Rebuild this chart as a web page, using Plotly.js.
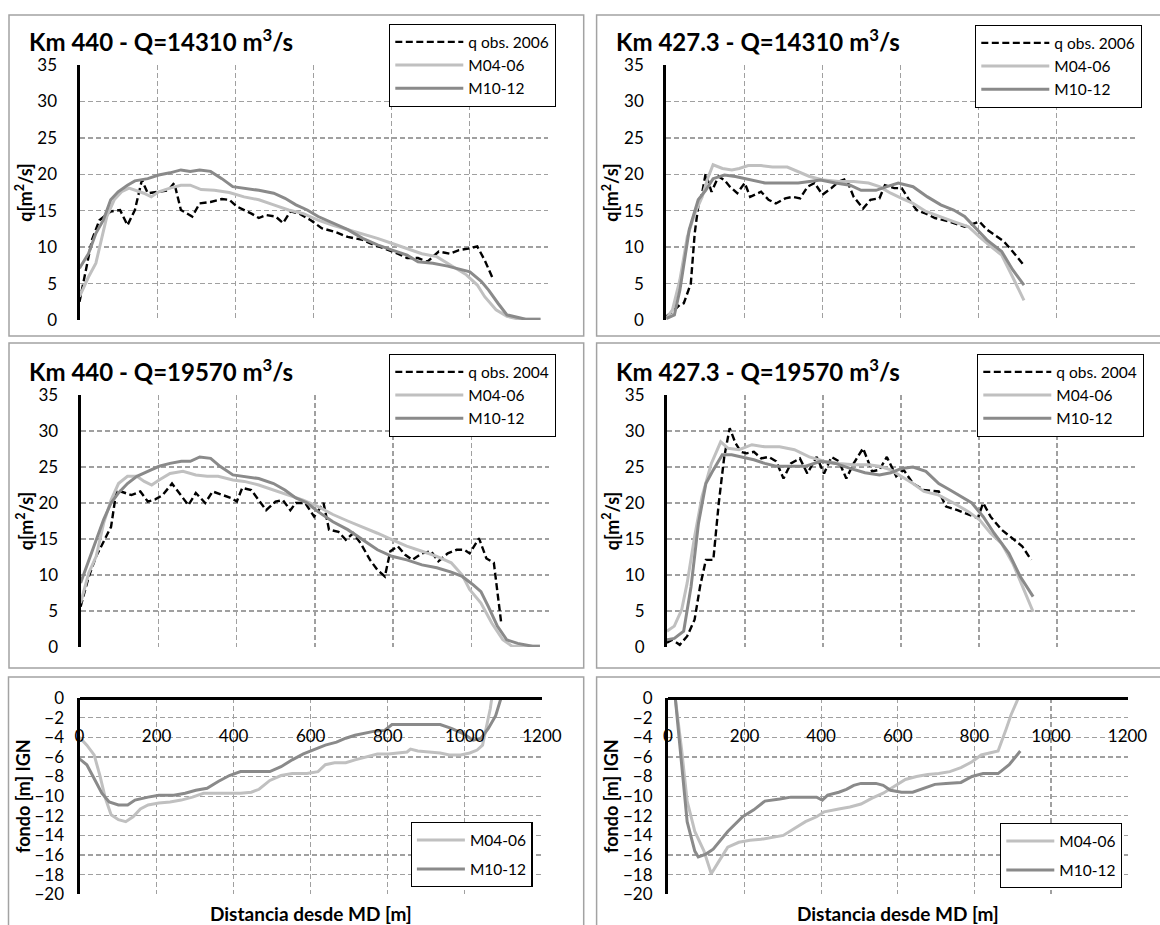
<!DOCTYPE html>
<html><head><meta charset="utf-8">
<script src="https://cdn.plot.ly/plotly-3.0.1.min.js"></script>
<style>html,body{margin:0;padding:0;background:#fff}#chart{width:1160px;height:925px}</style>
</head><body><div id="chart"></div>
<script>
// ---------- DATA ----------
const seriesNames = ["q obs. 2006", "q obs. 2004", "M04-06", "M10-12"];
const panelTitles = ["Km 440 - Q=14310 m<sup>3</sup>/s", "Km 427.3 - Q=14310 m<sup>3</sup>/s",
                     "Km 440 - Q=19570 m<sup>3</sup>/s", "Km 427.3 - Q=19570 m<sup>3</sup>/s"];
const qTicks = [0, 5, 10, 15, 20, 25, 30, 35];
const zTicks = [0, -2, -4, -6, -8, -10, -12, -14, -16, -18, -20];
const distTicks = [0, 200, 400, 600, 800, 1000, 1200];

// Panel 1: Km 440, Q=14310
const p1ObsX = [0,32,51,80,104,123,142,160,175,203,227,243,260,289,308,336,365,384,403,441,460,479,503,522,541,564,593,621,655,688,726,755,783,816,840,868,892,921,949,973,997,1020,1039,1058];
const p1ObsY = [2.5,11,13.7,14.9,15.1,13.0,15.1,19.2,17.4,17.6,17.8,18.8,15.1,14.2,16.0,16.2,16.6,16.5,15.6,14.6,14.0,14.4,14.2,13.3,14.9,14.6,13.7,12.6,12.1,11.4,11.0,10.3,9.8,9.1,8.5,8.5,8.0,9.4,9.1,9.6,9.8,10.1,8.2,5.9];
const p1M04X = [0,23,42,56,70,89,108,127,146,165,184,203,232,260,284,312,346,384,422,460,498,536,574,612,650,688,726,764,802,840,878,916,954,992,1020,1039,1068,1096,1125,1182];
const p1M04Y = [3.2,5.9,7.8,11,14.2,16.5,17.6,18.1,17.8,17.4,16.9,17.6,18.1,18.5,18.5,17.9,17.8,17.5,16.9,16.5,15.8,15.1,14.6,13.7,13.0,12.4,11.9,11.2,10.5,9.8,9.1,8.7,7.5,6.2,4.8,3.2,1.4,0.5,0.14,0.1];
const p1M10X = [0,23,42,61,80,99,123,142,175,203,232,260,284,308,336,365,393,422,460,498,527,555,584,612,650,688,726,764,802,840,868,906,944,982,1001,1030,1049,1073,1096,1144,1182];
const p1M10Y = [7.1,9.1,11.9,13.7,16.5,17.6,18.5,19.1,19.4,19.9,20.2,20.6,20.4,20.6,20.4,19.4,18.3,18.1,17.8,17.4,16.7,15.8,15.1,14.2,13.3,12.4,11.2,10.3,9.6,8.9,8.0,7.8,7.4,6.9,6.6,5.3,4.1,2.3,0.7,0.1,0.1];

// Panel 2: Km 427.3, Q=14310
const p2ObsX = [0,16,35,45,63,73,82,92,101,116,134,149,163,182,201,215,243,262,281,305,324,343,362,380,400,423,442,461,480,504,523,546,560,584,603,622,641,665,688,726,764,788,802,821,840,864,887,916];
const p2ObsY = [0.5,1.1,2.1,2.3,5.0,11.9,15.6,17.4,20.1,17.6,19.7,19.2,18.3,17.4,18.8,16.9,17.6,16.5,16.0,16.7,16.9,16.7,18.3,18.8,17.2,18.1,19.0,19.4,16.9,15.3,16.5,16.7,18.5,18.1,18.1,16.5,15.1,14.6,14.0,13.5,12.8,13.3,13.5,12.4,11.7,10.8,9.4,7.5];
const p2M04X = [0,16,35,54,73,92,106,120,144,168,187,210,243,272,310,338,367,404,442,480,518,546,575,603,632,665,698,736,774,802,831,859,887,916];
const p2M04Y = [0.2,1.4,5.5,11.4,14.6,16.9,19.4,21.3,20.8,20.6,20.8,21.2,21.2,21.0,21.0,20.4,19.7,19.2,19.0,19.0,18.8,18.3,17.4,16.7,16.0,14.9,14.2,13.5,12.8,11.4,10.1,8.9,5.9,2.7];
const p2M10X = [0,21,35,59,82,101,120,149,177,215,253,291,338,367,395,433,471,499,537,565,594,632,669,703,736,764,793,821,859,887,916];
const p2M10Y = [0.2,0.7,4.1,12.4,16.5,17.8,19.4,19.9,19.7,19.2,18.8,18.8,18.8,19.0,19.2,18.8,18.5,17.8,17.8,18.3,18.8,18.3,16.9,15.8,15.1,14.2,12.6,11.0,9.4,6.9,4.8];

// Panel 3: Km 440, Q=19570
const p3ObsX = [0,21,40,59,78,92,111,130,153,172,191,210,234,258,276,295,319,338,362,385,400,414,437,456,475,499,518,537,551,575,598,622,636,660,679,698,717,741,760,779,793,812,831,849,874,897,916,940,963,982,996,1020,1039,1058,1067,1077];
const p3ObsY = [5.6,9.8,12.6,14.7,16.7,21.8,21.4,21.1,21.6,20.2,20.5,21.1,22.7,20.9,19.7,21.4,20.0,21.6,21.1,20.7,20.2,22.1,21.8,20.4,19.0,20.2,20.4,19.0,20.0,20.0,18.1,20.0,16.3,16.0,14.9,15.8,14.4,12.1,10.7,9.8,13.3,14.0,12.8,12.1,13.0,13.3,11.9,13.0,13.5,13.5,13.0,15.1,12.3,11.7,8.0,3.3];
const p3M04X = [0,21,40,59,78,97,120,144,163,182,201,229,262,295,324,352,390,419,456,494,532,570,608,646,684,722,760,797,835,874,912,949,977,996,1025,1053,1081,1105,1138,1176];
const p3M04Y = [6.1,10.3,12.6,17.2,20.4,22.7,23.7,23.7,23.0,22.5,23.2,24.1,24.4,23.9,23.7,23.7,23.2,23.0,22.5,21.8,21.1,20.4,19.5,18.4,17.5,16.7,15.8,14.9,14.0,13.3,12.6,11.7,10.0,8.0,6.1,3.3,1.0,0.1,0.1,0.1];
const p3M10X = [0,21,40,59,78,97,120,144,172,201,229,258,281,305,333,357,390,419,456,494,523,551,580,608,646,684,722,760,797,835,874,912,949,977,1006,1025,1044,1067,1091,1119,1157,1176];
const p3M10Y = [8.9,12.1,14.9,17.7,20.0,21.4,22.7,23.7,24.4,25.1,25.5,25.8,25.8,26.4,26.2,25.1,23.9,23.7,23.4,22.7,21.8,20.7,20.0,18.8,17.4,16.3,14.9,13.5,12.6,12.1,11.4,11.0,10.4,9.8,8.6,7.7,5.6,2.9,1.0,0.5,0.1,0.1];

// Panel 4: Km 427.3, Q=19570
const p4ObsX = [0,14,33,52,71,85,100,119,133,147,161,176,190,204,223,242,261,280,299,318,341,360,384,403,422,441,460,479,503,526,545,564,588,607,631,659,697,716,745,773,797,811,830,858,887,911,934];
const p4ObsY = [0.6,1.0,0.3,1.5,3.8,8.4,12.1,12.1,20.0,26.4,30.4,28.3,27.1,26.9,27.1,26.2,26.4,25.8,23.4,25.5,26.2,24.1,26.4,24.1,26.4,25.8,23.4,25.5,27.6,24.4,24.6,26.4,23.7,24.6,22.7,21.8,21.6,19.5,19.0,18.4,17.9,20.0,18.1,16.3,15.1,14.0,12.1];
const p4M04X = [0,19,38,52,71,90,114,138,157,185,218,251,289,327,365,403,441,479,517,545,574,602,631,659,697,735,773,801,830,858,887,915,939];
const p4M04Y = [2.2,2.9,5.2,8.9,15.3,20.9,25.5,28.5,27.6,27.4,28.1,27.8,27.8,27.4,26.4,25.8,25.5,25.3,25.3,25.1,24.6,23.7,22.7,21.6,21.1,20.0,18.8,17.7,15.8,14.4,11.6,8.0,4.9];
const p4M10X = [0,19,43,62,81,100,119,142,166,194,223,251,280,318,356,394,432,470,508,545,574,602,631,664,697,726,754,782,811,839,877,906,939];
const p4M10Y = [1.0,1.2,2.2,8.4,17.2,22.7,24.6,26.7,26.7,26.4,26.0,25.5,25.1,25.1,25.1,25.8,25.5,24.8,24.2,23.9,24.2,24.8,25.0,24.4,22.7,21.8,20.9,20.0,18.1,15.8,13.0,9.8,7.0];

// Panel 5: bed Km 440
const p5M04X = [0,19,38,53,67,82,101,120,139,158,178,206,235,264,293,322,350,389,418,446,466,494,523,552,590,619,638,662,691,715,744,773,802,826,850,859,878,907,936,960,989,1013,1032,1046,1056,1066,1070];
const p5M04Y = [-4.0,-4.8,-5.8,-7.9,-10.2,-11.9,-12.4,-12.6,-12.1,-11.3,-10.9,-10.7,-10.6,-10.4,-10.1,-9.7,-9.7,-9.7,-9.7,-9.6,-9.3,-8.4,-7.9,-7.7,-7.7,-7.5,-6.8,-6.6,-6.6,-6.3,-6.0,-5.7,-5.7,-5.6,-5.5,-5.2,-5.4,-5.5,-5.6,-5.8,-5.8,-5.6,-5.3,-4.8,-3.1,-1.1,0];
const p5M10X = [0,19,38,58,77,101,125,144,178,206,245,274,302,331,360,389,418,456,494,523,552,581,610,638,667,691,715,739,763,792,811,850,898,936,965,994,1022,1042,1061,1080,1094];
const p5M10Y = [-6.2,-6.8,-8.2,-9.7,-10.6,-10.9,-10.9,-10.4,-10.1,-9.9,-9.9,-9.7,-9.4,-9.2,-8.5,-7.9,-7.5,-7.5,-7.5,-7.0,-6.3,-5.7,-5.2,-4.8,-4.5,-4.1,-3.8,-3.6,-3.4,-3.3,-2.7,-2.7,-2.7,-2.7,-3.1,-3.6,-4.3,-4.1,-3.1,-1.8,0];

// Panel 6: bed Km 427.3
const p6M04X = [19,36,50,70,94,113,132,156,185,214,243,272,301,330,359,388,408,446,475,504,533,562,591,620,649,678,707,736,765,794,818,842,862,881,896,915];
const p6M04Y = [0,-5.4,-10.5,-13.6,-15.6,-17.9,-16.7,-15.2,-14.7,-14.5,-14.4,-14.2,-14.0,-13.3,-12.6,-12.1,-11.6,-11.3,-11.1,-10.8,-10.2,-9.7,-9.0,-8.3,-8.0,-7.8,-7.7,-7.5,-7.1,-6.5,-5.8,-5.6,-5.4,-3.4,-1.7,0];
const p6M10X = [19,36,50,70,79,99,118,156,195,224,253,292,321,350,388,403,417,446,466,485,504,543,562,581,610,639,668,697,726,765,794,823,862,891,920];
const p6M10Y = [0,-6.5,-12.6,-15.6,-16.2,-15.9,-15.4,-13.6,-12.1,-11.4,-10.5,-10.3,-10.1,-10.1,-10.1,-10.4,-9.9,-9.6,-9.3,-8.9,-8.7,-8.7,-8.9,-9.4,-9.6,-9.6,-9.2,-8.8,-8.7,-8.6,-8.0,-7.7,-7.7,-6.8,-5.4];

// ---------- STYLE / LAYOUT ----------
const W = 1160, H = 925;
const FONT = "Lato, 'Open Sans', sans-serif";
const C_OBS = "#000000", C_M04 = "#c0c0c0", C_M10 = "#8a8a8a", GRID = "#a0a0a0";
const px = v => v / W, py = v => 1 - v / H;

function obs(x, y, name, n) {
  return {x, y, name, type: "scatter", mode: "lines", xaxis: "x" + n, yaxis: "y" + n,
    line: {color: C_OBS, width: 2.4, dash: "7px,3.5px"}, legend: n === 1 ? "legend" : "legend" + n, legendgroup: "a" + n};
}
function mod(x, y, name, color, n, g) {
  return {x, y, name, type: "scatter", mode: "lines", xaxis: "x" + n, yaxis: "y" + n,
    line: {color, width: 3}, legend: n === 1 ? "legend" : "legend" + n, legendgroup: g + n};
}
function fix(t) { t.xaxis = t.xaxis === "x1" ? "x" : t.xaxis; t.yaxis = t.yaxis === "y1" ? "y" : t.yaxis; return t; }

const data = [
  obs(p1ObsX, p1ObsY, seriesNames[0], 1), mod(p1M04X, p1M04Y, seriesNames[2], C_M04, 1, "b"), mod(p1M10X, p1M10Y, seriesNames[3], C_M10, 1, "c"),
  obs(p2ObsX, p2ObsY, seriesNames[0], 2), mod(p2M04X, p2M04Y, seriesNames[2], C_M04, 2, "b"), mod(p2M10X, p2M10Y, seriesNames[3], C_M10, 2, "c"),
  obs(p3ObsX, p3ObsY, seriesNames[1], 3), mod(p3M04X, p3M04Y, seriesNames[2], C_M04, 3, "b"), mod(p3M10X, p3M10Y, seriesNames[3], C_M10, 3, "c"),
  obs(p4ObsX, p4ObsY, seriesNames[1], 4), mod(p4M04X, p4M04Y, seriesNames[2], C_M04, 4, "b"), mod(p4M10X, p4M10Y, seriesNames[3], C_M10, 4, "c"),
  mod(p5M04X, p5M04Y, seriesNames[2], C_M04, 5, "b"), mod(p5M10X, p5M10Y, seriesNames[3], C_M10, 5, "c"),
  mod(p6M04X, p6M04Y, seriesNames[2], C_M04, 6, "b"), mod(p6M10X, p6M10Y, seriesNames[3], C_M10, 6, "c")
].map(fix);

// plot-area pixel boxes [left, right, top, bottom]
const boxes = [
  [79.5, 547.5, 65, 320], [666.2, 1134.9, 65, 320],
  [80.6, 549.3, 395, 647], [666.9, 1134.9, 395, 647],
  [79.5, 541.9, 698, 894.3], [668, 1127.5, 698, 894.3]
];

const layout = {
  width: W, height: H, margin: {l: 0, r: 0, t: 0, b: 0},
  paper_bgcolor: "#fff", plot_bgcolor: "#fff",
  font: {family: FONT, size: 17, color: "#000"},
  showlegend: true, annotations: [], shapes: []
};

boxes.forEach((b, i) => {
  const n = i + 1, sx = n === 1 ? "" : n, bed = n >= 5;
  const xa = {
    domain: [px(b[0]), px(b[1])], range: [0, 1200], tickvals: distTicks,
    showgrid: true, gridcolor: GRID, griddash: "5px,3px", gridwidth: 1.3, zeroline: false,
    fixedrange: true, ticks: ""
  };
  if (bed) {
    // horizontal axis crosses at 0 (top of the plot), labels just below it
    Object.assign(xa, {anchor: "free", position: py(b[2]), side: "bottom", overlaying: undefined,
      showline: true, linecolor: "#000", linewidth: 3,
      showticklabels: true, ticklabelstandoff: 22, tickfont: {size: 17, family: FONT}});
  } else {
    Object.assign(xa, {anchor: "y" + sx, showline: false, showticklabels: false});
  }
  const ya = {
    domain: [py(b[3]), py(b[2])], anchor: "x" + sx,
    range: bed ? [-20, 0] : [0, 35], tickvals: bed ? zTicks : qTicks,
    showgrid: true, gridcolor: GRID, griddash: "5px,3px", gridwidth: 1.3, zeroline: false,
    showline: true, linecolor: "#000", linewidth: 3, ticks: "",
    ticklabelstandoff: bed ? 9 : 16, tickfont: {size: 17, family: FONT}, fixedrange: true,
    title: {text: bed ? "<b>fondo [m] IGN</b>" : "<b>q[m<sup>2</sup>/s]</b>", font: {size: 18, family: FONT}, standoff: bed ? 0 : 1}
  };
  layout["xaxis" + sx] = xa;
  layout["yaxis" + sx] = ya;
});

// legends
const legPos = [[389, 24], [975, 25], [389, 354], [977, 354], [410.6, 822], [1000, 823]];
legPos.forEach((p, i) => {
  const key = i === 0 ? "legend" : "legend" + (i + 1);
  layout[key] = {x: px(p[0]), y: py(p[1]), xanchor: "left", yanchor: "top",
    bgcolor: "#fff", bordercolor: "#000", borderwidth: 1.3,
    font: {size: 15.5, family: FONT}, tracegroupgap: i >= 4 ? 6 : 0, itemwidth: i >= 4 ? 48 : 68};
});

// panel frames
const frames = [[9, 583.7, 15, 336], [596.6, 1170, 15, 336], [9, 583.7, 343, 668], [596.6, 1170, 343, 668], [8.5, 583.7, 677, 940], [596.6, 1170, 677, 940]];
frames.forEach(f => layout.shapes.push({type: "rect", xref: "paper", yref: "paper",
  x0: px(f[0]), x1: px(f[1]), y0: py(f[3]), y1: py(f[2]), line: {color: "#a3a3a3", width: 1.5}, layer: "below"}));

// panel titles
const titlePos = [[27, 40], [614, 40], [27, 370], [614, 370]];
panelTitles.forEach((t, i) => layout.annotations.push({text: "<b>" + t + "</b>", xref: "paper", yref: "paper",
  x: px(titlePos[i][0]), y: py(titlePos[i][1]), xanchor: "left", yanchor: "middle", showarrow: false,
  font: {size: 24, family: FONT}}));

// x axis titles of bed panels
[[311, 913], [898, 913]].forEach(p => layout.annotations.push({text: "<b>Distancia desde MD [m]</b>",
  xref: "paper", yref: "paper", x: px(p[0]), y: py(p[1]), xanchor: "center", yanchor: "middle",
  showarrow: false, font: {size: 19, family: FONT}}));

Plotly.newPlot("chart", data, layout, {displayModeBar: false, staticPlot: true});
</script></body></html>
